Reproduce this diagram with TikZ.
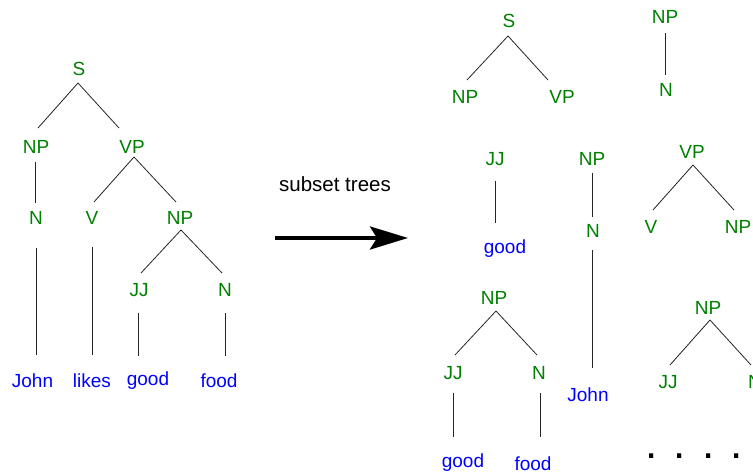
\documentclass[tikz,border=0pt]{standalone}
\usepackage{fontspec}
\setmainfont{Liberation Sans}
\usetikzlibrary{arrows.meta}
\definecolor{treegreen}{RGB}{0,128,0}
\definecolor{treeblue}{RGB}{0,0,255}
\begin{document}
\begin{tikzpicture}[x=1pt,y=-1pt,
  lab/.style={font=\fontsize{19}{19}\selectfont, text=treegreen, inner sep=0pt, anchor=base},
  word/.style={lab, text=treeblue},
  edge/.style={draw=black!85, line width=0.8pt}]
\useasboundingbox (0,0) rectangle (753,473);
\clip (0,0) rectangle (753,473);
\fill[white] (0,0) rectangle (753,473);

% ---------- left tree ----------
\node[lab] (S) at (79,75.5) {S};
\node[lab] (NPa) at (36,153.5) {NP};
\node[lab] (VPa) at (132,153.5) {VP};
\node[lab] (Na) at (36,224.5) {N};
\node[lab] (Va) at (92,224.5) {V};
\node[lab] (NPb) at (180,224.5) {NP};
\node[lab] (JJa) at (139,296.5) {JJ};
\node[lab] (Nb) at (225,296.5) {N};
\node[word] (John) at (32.5,388) {John};
\node[word] (likes) at (92,388) {likes};
\node[word] (gooda) at (148,385) {good};
\node[word] (fooda) at (219,388) {food};

\draw[edge] ([shift={(-1,7.5)}]S.base) -- ([shift={(2,-25.5)}]NPa.base);
\draw[edge] ([shift={(-1,7.5)}]S.base) -- ([shift={(-13,-25.5)}]VPa.base);
\draw[edge] ([shift={(-1,8.5)}]NPa.base) -- ([shift={(-1,-21.5)}]Na.base);
\draw[edge] ([shift={(2,3.5)}]VPa.base) -- ([shift={(2,-22.5)}]Va.base);
\draw[edge] ([shift={(2,3.5)}]VPa.base) -- ([shift={(-4,-22.5)}]NPb.base);
\draw[edge] ([shift={(1,5.5)}]NPb.base) -- ([shift={(2,-23.5)}]JJa.base);
\draw[edge] ([shift={(1,5.5)}]NPb.base) -- ([shift={(-3,-23.5)}]Nb.base);
\draw[edge] ([shift={(0,23.5)}]Na.base) -- ([shift={(3.5,-33)}]John.base);
\draw[edge] ([shift={(0,22.5)}]Va.base) -- ([shift={(0,-33)}]likes.base);
\draw[edge] ([shift={(-1,16.5)}]JJa.base) -- ([shift={(-10,-29)}]gooda.base);
\draw[edge] ([shift={(0,16.5)}]Nb.base) -- ([shift={(6,-32)}]fooda.base);

% ---------- arrow ----------
\node[font=\fontsize{20.5}{20.5}\selectfont, inner sep=0pt, anchor=base] (sub) at (335,192) {subset trees};
\coordinate (arrS) at (275,238);
\coordinate (arrE) at (408,238);
\draw[line width=4pt, -{Stealth[length=38pt,width=23pt,inset=7pt]}] (arrS) -- (arrE);

% ---------- subset trees ----------
\node[lab] (S2) at (509,27.5) {S};
\node[lab] (NPc) at (465,103.5) {NP};
\node[lab] (VPb) at (562,103.5) {VP};
\draw[edge] ([shift={(-1,8.5)}]S2.base) -- ([shift={(2,-23.5)}]NPc.base);
\draw[edge] ([shift={(-1,8.5)}]S2.base) -- ([shift={(-14,-23.5)}]VPb.base);

\node[lab] (NPd) at (665,23.5) {NP};
\node[lab] (Nc) at (666,96.5) {N};
\draw[edge] ([shift={(0,9.5)}]NPd.base) -- ([shift={(-1,-21.5)}]Nc.base);

\node[lab] (JJb) at (495,165.5) {JJ};
\node[word] (goodb) at (505,254) {good};
\draw[edge] ([shift={(0,15.5)}]JJb.base) -- ([shift={(-10,-31)}]goodb.base);

\node[lab] (NPe) at (592,165.5) {NP};
\node[lab] (Nd) at (593,237.5) {N};
\node[word] (Johnb) at (588,401.5) {John};
\draw[edge] ([shift={(0,7.5)}]NPe.base) -- ([shift={(-1,-20.5)}]Nd.base);
\draw[edge] ([shift={(-1,12.5)}]Nd.base) -- ([shift={(4,-33.5)}]Johnb.base);

\node[lab] (VPc) at (692,158.5) {VP};
\node[lab] (Vb) at (651,233.5) {V};
\node[lab] (NPf) at (738,233.5) {NP};
\draw[edge] ([shift={(1,6.5)}]VPc.base) -- ([shift={(2,-23.5)}]Vb.base);
\draw[edge] ([shift={(1,6.5)}]VPc.base) -- ([shift={(-4,-23.5)}]NPf.base);

\node[lab] (NPg) at (494,304.5) {NP};
\node[lab] (JJc) at (453,379.5) {JJ};
\node[lab] (Ne) at (539,379.5) {N};
\node[word] (goodc) at (463,467) {good};
\node[word] (foodc) at (533,470) {food};
\draw[edge] ([shift={(2,6.5)}]NPg.base) -- ([shift={(2,-24.5)}]JJc.base);
\draw[edge] ([shift={(2,6.5)}]NPg.base) -- ([shift={(-2,-24.5)}]Ne.base);
\draw[edge] ([shift={(0,13.5)}]JJc.base) -- ([shift={(-10,-30)}]goodc.base);
\draw[edge] ([shift={(1,13.5)}]Ne.base) -- ([shift={(7,-33)}]foodc.base);

\node[lab] (NPh) at (708,314.5) {NP};
\node[lab] (JJd) at (668,388.5) {JJ};
\node[lab] (Nf) at (755,388.5) {N};
\draw[edge] ([shift={(2,5.5)}]NPh.base) -- ([shift={(2,-23.5)}]JJd.base);
\draw[edge] ([shift={(2,5.5)}]NPh.base) -- ([shift={(-4,-23.5)}]Nf.base);

\node[font=\fontsize{44}{44}\selectfont, inner sep=0pt, anchor=base west] (dots) at (645,458) {. . . .};
\end{tikzpicture}
\end{document}
